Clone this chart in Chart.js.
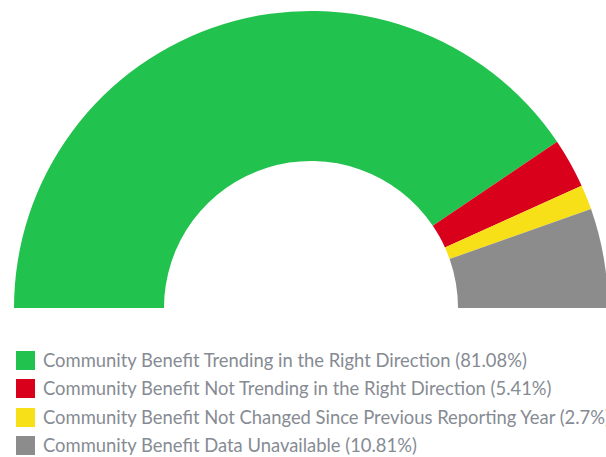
<!DOCTYPE html>
<html>
<head>
<meta charset="utf-8">
<script src="https://cdn.jsdelivr.net/npm/chart.js@4"></script>
<style>
  html, body { margin: 0; padding: 0; background: #ffffff; overflow: hidden; }
  body { width: 606px; height: 457px; position: relative; }
  #wrap { position: absolute; left: 0; top: 0; width: 622px; height: 310px; }
  #legend { position: absolute; left: 16px; top: 351px; margin: 0; padding: 0; list-style: none;
            font-family: Lato, "Open Sans", sans-serif; font-size: 18.4px; color: #868b93; white-space: nowrap; }
  #legend li { height: 28.3px; display: flex; align-items: flex-start; }
  #legend span.box { display: inline-block; width: 19px; height: 19px; margin-right: 8px; flex: none; }
  #legend span.txt { line-height: 19px; }
</style>
</head>
<body>
<div id="wrap"><canvas id="myChart"></canvas></div>
<ul id="legend"></ul>
<script>
const labels = [
    "Community Benefit Trending in the Right Direction (81.08%)",
    "Community Benefit Not Trending in the Right Direction (5.41%)",
    "Community Benefit Not Changed Since Previous Reporting Year (2.7%)",
    "Community Benefit Data Unavailable (10.81%)",
];
const values = [81.08, 5.41, 2.7, 10.81];
const colors = ["#22c24f", "#d9001c", "#f7e017", "#8c8c8c"];

const data = {
    labels,
    datasets: [
        {
            data: values,
            backgroundColor: colors,
            borderWidth: 0,
        }
    ],
};

const config = {
    type: "doughnut",
    data: data,
    options: {
        responsive: true,
        maintainAspectRatio: false,
        animation: false,
        rotation: -90,
        circumference: 180,
        cutout: "49.5%",
        layout: {
            padding: { left: 14, right: 14, top: 11, bottom: 2 }
        },
        plugins: {
            legend: { display: false },
            tooltip: { enabled: false }
        },
        hover: { mode: null }
    }
};

const myChart = new Chart(document.getElementById("myChart"), config);

// Legende als HTML, aus denselben Arrays
const ul = document.getElementById("legend");
labels.forEach(function(lab, i) {
    const li = document.createElement("li");
    const box = document.createElement("span");
    box.className = "box";
    box.style.background = colors[i];
    const txt = document.createElement("span");
    txt.className = "txt";
    txt.textContent = lab;
    li.appendChild(box);
    li.appendChild(txt);
    ul.appendChild(li);
});
</script>
</body>
</html>
